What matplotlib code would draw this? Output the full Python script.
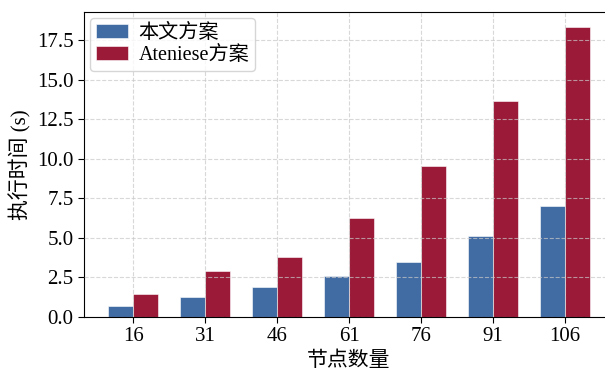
import matplotlib
matplotlib.use("Agg")
import matplotlib.pyplot as plt
import numpy as np

plt.rcParams['font.family'] = ['Liberation Serif', 'Noto Sans CJK SC']
plt.rcParams['axes.unicode_minus'] = False

nodes = ['16', '31', '46', '61', '76', '91', '106']
ours = [0.68, 1.23, 1.86, 2.57, 3.49, 5.12, 6.98]
ateniese = [1.44, 2.90, 3.79, 6.26, 9.55, 13.68, 18.37]
series_names = ['本文方案', 'Ateniese方案']

fig = plt.figure(figsize=(6.05, 3.70), dpi=100)
ax = fig.add_axes([84 / 605, (370 - 316.7) / 370, (614 - 84) / 605, (316.7 - 12) / 370])

x = np.arange(len(nodes))
w = 0.35
ax.bar(x - w / 2, ours, w, color='#416ba3', edgecolor='#ffffff', linewidth=0.4, label=series_names[0])
ax.bar(x + w / 2, ateniese, w, color='#9a1a38', edgecolor='#ffffff', linewidth=0.4, label=series_names[1])

ax.set_xticks(x)
ax.set_xticklabels(nodes)
ax.set_ylim(0, max(ateniese) * 1.05)
ax.set_yticks(np.arange(0, 18.0, 2.5))
ax.yaxis.set_major_formatter(matplotlib.ticker.FormatStrFormatter('%.1f'))
ax.tick_params(labelsize=15, length=4)

ax.set_xlabel('节点数量', fontsize=15)
ax.set_ylabel('执行时间 (s)', fontsize=15)

ax.grid(True, linestyle='--', color='#c8c8c8', alpha=0.7, linewidth=0.8)
ax.set_axisbelow(False)

ax.legend(loc='upper left', fontsize=14.5, frameon=True, edgecolor='#cccccc',
          handlelength=1.6, borderpad=0.3, labelspacing=0.15, handletextpad=0.5,
          borderaxespad=0.3, fancybox=True)

fig.savefig('out.png', dpi=100)
